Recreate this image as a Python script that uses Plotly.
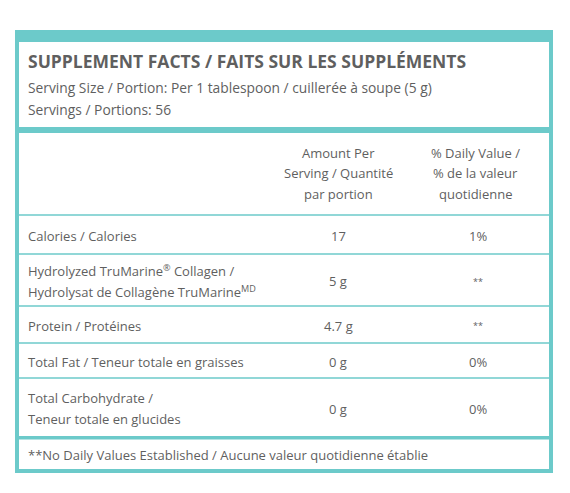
import plotly.graph_objects as go

TEAL = "#6ccaca"
GRAY = "#5f5f5f"
FONT = "Open Sans"

title = "SUPPLEMENT FACTS / FAITS SUR LES SUPPLÉMENTS"
serving_lines = ["Serving Size / Portion: Per 1 tablespoon / cuillerée à soupe (5 g)",
                 "Servings / Portions: 56"]
col_headers = [["Amount Per", "Serving / Quantité", "par portion"],
               ["% Daily Value /", "% de la valeur", "quotidienne"]]
nutrients = [["Calories / Calories"],
             ["Hydrolyzed TruMarine<sup>®</sup> Collagen /", "Hydrolysat de Collagène TruMarine<sup>MD</sup>"],
             ["Protein / Protéines"],
             ["Total Fat / Teneur totale en graisses"],
             ["Total Carbohydrate /", "Teneur totale en glucides"]]
amounts = ["17", "5 g", "4.7 g", "0 g", "0 g"]
daily_values = ["1%", "**", "**", "0%", "0%"]
footnote = "**No Daily Values Established / Aucune valeur quotidienne établie"

row_bounds = [215, 254, 306, 343, 378, 437]
OFF = 8  # page body margin compensation

fig = go.Figure()
shapes = []
shapes.append(dict(type="rect", x0=17, x1=551, y0=32, y1=471, line=dict(color=TEAL, width=4)))
shapes.append(dict(type="rect", x0=15, x1=553, y0=30, y1=42, fillcolor=TEAL, line=dict(width=0)))
shapes.append(dict(type="rect", x0=15, x1=553, y0=127, y1=133, fillcolor=TEAL, line=dict(width=0)))
shapes.append(dict(type="rect", x0=15, x1=553, y0=436, y1=439.5, fillcolor=TEAL, line=dict(width=0)))
for yb in row_bounds[:-1]:
    shapes.append(dict(type="line", x0=15, x1=553, y0=yb, y1=yb, line=dict(color=TEAL, width=1.6)))

ann = []
def t(x, y, s, size=13, anchor="left", bold=False):
    ann.append(dict(x=x, y=y, text=f"<b>{s}</b>" if bold else s, showarrow=False,
                    xanchor=anchor, yanchor="middle",
                    font=dict(family=FONT, size=size, color=GRAY)))

def lines(x, yc, ls, anchor="left", size=13, gap=20.5):
    n = len(ls)
    for k, s in enumerate(ls):
        t(x, yc + (k - (n - 1) / 2) * gap, s, size=size, anchor=anchor)

t(26, 61, title, size=17.5, bold=True)
t(26, 87, serving_lines[0], size=13.8)
t(26, 109, serving_lines[1], size=13.8)
lines(338, 173, col_headers[0], anchor="center")
lines(475, 173, col_headers[1], anchor="center")
for i in range(len(nutrients)):
    yc = (row_bounds[i] + row_bounds[i + 1]) / 2 + 1
    lines(26, yc, nutrients[i], gap=21.5)
    t(338, yc, amounts[i], anchor="center")
    t(478, yc, daily_values[i], anchor="center", size=13 if daily_values[i] != "**" else 9)
t(26, 455, footnote)

fig.update_layout(width=570, height=493, margin=dict(l=0, r=0, t=0, b=0),
                  paper_bgcolor="white", plot_bgcolor="white", shapes=shapes, annotations=ann,
                  xaxis=dict(range=[OFF, 570 + OFF], visible=False, fixedrange=True),
                  yaxis=dict(range=[493 + OFF, OFF], visible=False, fixedrange=True),
                  showlegend=False)
fig.write_html("out.html")
